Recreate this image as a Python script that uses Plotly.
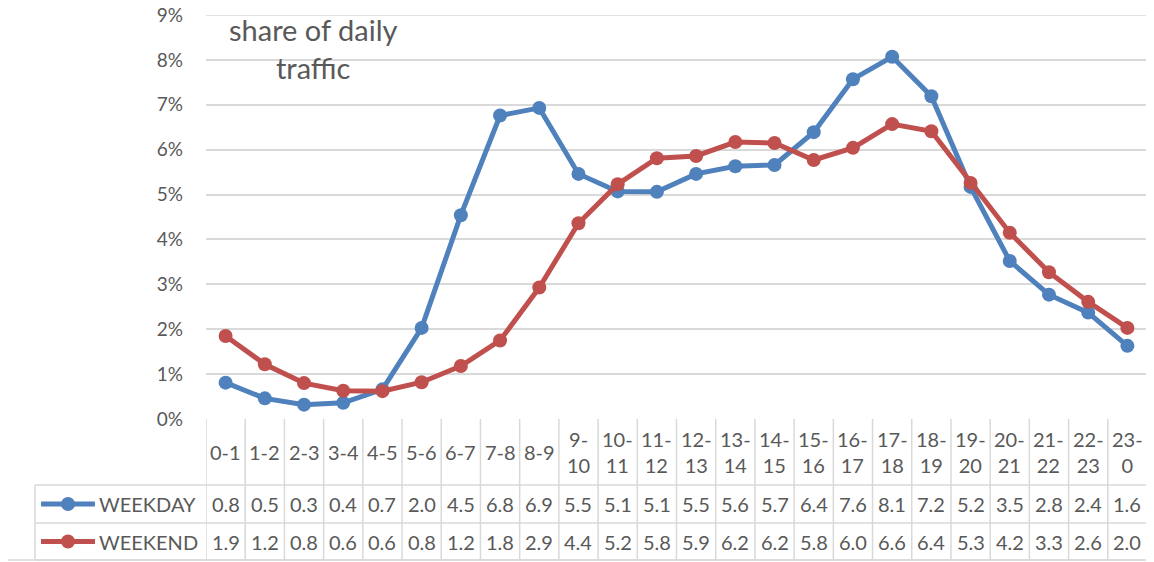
import plotly.graph_objects as go

# hour slots and share of daily traffic (%)
hours = ["0-1", "1-2", "2-3", "3-4", "4-5", "5-6", "6-7", "7-8", "8-9", "9-10",
         "10-11", "11-12", "12-13", "13-14", "14-15", "15-16", "16-17", "17-18",
         "18-19", "19-20", "20-21", "21-22", "22-23", "23-0"]
weekday = [0.81, 0.46, 0.32, 0.36, 0.66, 2.03, 4.54, 6.76, 6.93, 5.46, 5.07, 5.06,
           5.46, 5.63, 5.66, 6.39, 7.57, 8.07, 7.19, 5.17, 3.52, 2.77, 2.37, 1.63]
weekend = [1.85, 1.22, 0.80, 0.63, 0.62, 0.82, 1.18, 1.75, 2.93, 4.36, 5.23, 5.81,
           5.86, 6.17, 6.15, 5.77, 6.04, 6.57, 6.41, 5.26, 4.15, 3.27, 2.61, 2.03]
series = [("WEEKDAY", weekday, "#4F81BD"), ("WEEKEND", weekend, "#C0504D")]
y_max = 9

# page body has an 8px margin, so the figure is drawn 8px smaller and
# all pixel positions below are shifted by it
OFF = 8
W, H = 1154 - OFF, 562 - OFF
FONT = "Lato"
TXT = "#595959"
GRID = "#D9D9D9"


def px(x):
    return (x - OFF) / W


def py(y):
    return 1 - (y - OFF) / H


x_idx = list(range(len(hours)))

fig = go.Figure()
for name, vals, col in series:
    fig.add_trace(go.Scatter(x=x_idx, y=vals, name=name, mode="lines+markers",
                             line=dict(color=col, width=5),
                             marker=dict(color=col, size=14),
                             hovertext=hours, showlegend=False))

shapes = []
ann = []

# top gridline (plotly drops the one sitting on the range end)
shapes.append(dict(type="line", xref="x domain", yref="y", x0=0, x1=1,
                   y0=y_max, y1=y_max, layer="below",
                   line=dict(color=GRID, width=1.5)))

# outer chart frame (right and bottom edges are what is visible)
shapes.append(dict(type="line", xref="paper", yref="paper", x0=px(1152), x1=px(1152),
                   y0=py(560), y1=1, line=dict(color=GRID, width=1.5)))
shapes.append(dict(type="line", xref="paper", yref="paper", x0=0, x1=px(1152),
                   y0=py(560), y1=py(560), line=dict(color=GRID, width=1.5)))

# data table grid
top, r1, r2, bot = 419, 485, 523, 560
for i in range(len(hours) + 1):
    shapes.append(dict(type="line", xref="x", yref="paper", x0=i - 0.5, x1=i - 0.5,
                       y0=py(bot), y1=py(top), line=dict(color=GRID, width=1.5)))
for yy in (r1, r2, bot):
    shapes.append(dict(type="line", xref="paper", yref="paper", x0=px(35), x1=px(1147),
                       y0=py(yy), y1=py(yy), line=dict(color=GRID, width=1.5)))
shapes.append(dict(type="line", xref="paper", yref="paper", x0=px(35), x1=px(35),
                   y0=py(bot), y1=py(r1), line=dict(color=GRID, width=1.5)))

# header labels
for i, h in enumerate(hours):
    lab = h if len(h) <= 3 else h.replace("-", "-<br>")
    ann.append(dict(x=i, y=py((top + r1) / 2), xref="x", yref="paper", text=lab,
                    xanchor="center", yanchor="middle",
                    showarrow=False, font=dict(family=FONT, size=20, color=TXT),
                    align="center"))

# rows: legend key + values
rows_y = [(r1 + r2) / 2, (r2 + bot) / 2]
for (name, vals, col), ry in zip(series, rows_y):
    shapes.append(dict(type="line", xref="paper", yref="paper", x0=px(41), x1=px(95),
                       y0=py(ry), y1=py(ry), line=dict(color=col, width=5)))
    shapes.append(dict(type="circle", xref="paper", yref="paper", xsizemode="pixel",
                       ysizemode="pixel", xanchor=px(68), yanchor=py(ry),
                       x0=-7, x1=7, y0=-7, y1=7, fillcolor=col, line=dict(width=0)))
    ann.append(dict(x=px(97), y=py(ry), xref="paper", yref="paper", text=name,
                    xanchor="left", yanchor="middle", showarrow=False,
                    font=dict(family=FONT, size=20, color=TXT)))
    for i, v in enumerate(vals):
        ann.append(dict(x=i, y=py(ry), xref="x", yref="paper", text=f"{v:.1f}",
                        xanchor="center", yanchor="middle",
                        showarrow=False, font=dict(family=FONT, size=20, color=TXT)))

# in-plot title
ann.append(dict(x=px(313), y=py(49), xref="paper", yref="paper",
                text="share of daily<br>traffic", showarrow=False, align="center",
                xanchor="center", yanchor="middle",
                font=dict(family=FONT, size=29, color=TXT)))

fig.update_layout(
    width=W, height=H,
    margin=dict(l=0, r=0, t=0, b=0, autoexpand=False),
    paper_bgcolor="white", plot_bgcolor="white",
    xaxis=dict(domain=[px(206), px(1147)], range=[-0.5, len(hours) - 0.5],
               showticklabels=False, showgrid=False, zeroline=False,
               fixedrange=True, automargin=False),
    yaxis=dict(domain=[py(419), py(15)], range=[0, y_max], dtick=1, ticksuffix="%",
               showgrid=True, gridcolor=GRID, gridwidth=1.5, zeroline=False,
               ticklabelstandoff=22, automargin=False, ticklabeloverflow="allow",
               tickfont=dict(family=FONT, size=19, color=TXT)),
    shapes=shapes, annotations=ann,
)

fig.write_html("out.html")
